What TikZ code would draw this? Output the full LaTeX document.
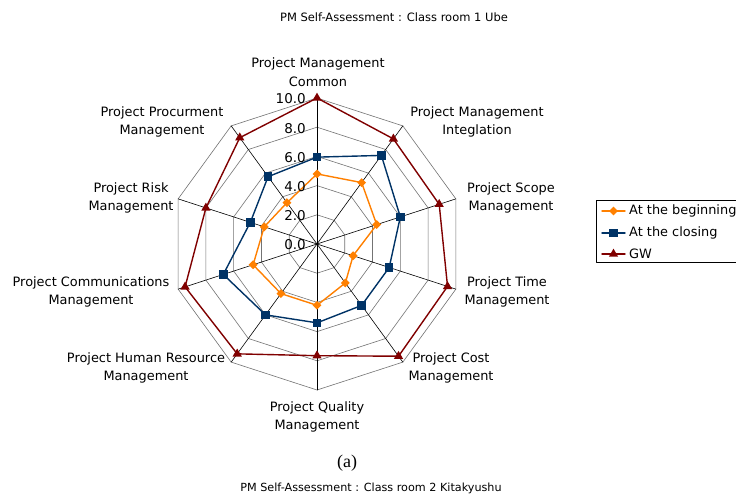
\documentclass[tikz,border=0pt]{standalone}
\usepackage{fontspec}
\setmainfont{Liberation Serif}
\newfontfamily\chartfont{DejaVu Sans}
\usetikzlibrary{shapes.geometric}
\definecolor{beginorange}{RGB}{255,128,0}
\definecolor{closenavy}{RGB}{0,51,102}
\definecolor{gwred}{RGB}{128,0,0}
\tikzset{
  gridring/.style={draw=black!55,line width=0.6pt},
  gridspoke/.style={draw=black,line width=0.6pt},
  axlabel/.style={font=\chartfont\fontsize{12.9}{18.5}\selectfont,align=center,inner sep=0pt},
  ticklabel/.style={font=\chartfont\fontsize{13.5}{14}\selectfont,anchor=east,inner sep=0pt},
  beginline/.style={draw=beginorange,line width=1.4pt},
  closeline/.style={draw=closenavy,line width=1.4pt},
  gwline/.style={draw=gwred,line width=1.4pt},
  beginmark/.style={diamond,fill=beginorange,inner sep=0pt,minimum size=9pt},
  closemark/.style={rectangle,fill=closenavy,inner sep=0pt,minimum size=8.5pt},
  gwmark/.style={isosceles triangle,isosceles triangle apex angle=60,shape border rotate=90,fill=gwred,inner sep=0pt,minimum size=8pt}
}
\begin{document}
\begin{tikzpicture}[x=1pt,y=1pt,yscale=-1,every path/.style={line join=round,line cap=round}]
  \useasboundingbox[fill=white] (0,0) rectangle (736,500);
  % title
  \node[font=\chartfont\fontsize{11.5}{14}\selectfont] (title) at (394,17) {PM Self-Assessment : Class room 1 Ube};
  % radar
  \begin{scope}[shift={(317,244)},x=14.6pt,y=14.6pt,yscale=-1]
    \foreach \r in {2,4,6,8,10}
      \draw[gridring] (90:\r) \foreach \k in {1,...,9} {-- ({90-36*\k}:\r)} -- cycle;
    \foreach \k in {0,...,9}
      \draw[gridspoke] (0,0) -- ({90-36*\k}:10);
    % data
    \foreach \v [count=\i from 0] in {4.8,5.2,4.3,2.6,3.3,4.2,4.2,4.6,3.8,3.5}
      \coordinate (b\i) at ({90-36*\i}:\v);
    \foreach \v [count=\i from 0] in {5.95,7.5,6.0,5.2,5.2,5.4,6.0,6.75,4.8,5.7}
      \coordinate (c\i) at ({90-36*\i}:\v);
    \foreach \v [count=\i from 0] in {10,8.9,8.8,9.4,9.5,7.65,9.3,9.5,8.0,9.0}
      \coordinate (g\i) at ({90-36*\i}:\v);
    \draw[beginline] (b0) \foreach \i in {1,...,9} {-- (b\i)} -- cycle;
    \draw[closeline] (c0) \foreach \i in {1,...,9} {-- (c\i)} -- cycle;
    \draw[gwline] (g0) \foreach \i in {1,...,9} {-- (g\i)} -- cycle;
    \foreach \i in {0,...,9} {
      \node[beginmark] (bm\i) at (b\i) {};
      \node[closemark] (cm\i) at (c\i) {};
      \node[gwmark] (gm\i) at (g\i) {};
    }
  \end{scope}
  % scale
  \foreach \t [count=\i from 0] in {0.0,2.0,4.0,6.0,8.0,10.0}
    \node[ticklabel] (tick\i) at (306,{245-29.2*\i}) {\t};
  % axis labels
  \node[axlabel] (lblCommon) at (318,72) {Project Management\\Common};
  \node[axlabel] (lblInteg) at (477,122) {Project Management\\Integlation};
  \node[axlabel] (lblScope) at (511,198) {Project Scope\\Management};
  \node[axlabel] (lblTime) at (507,292) {Project Time\\Management};
  \node[axlabel] (lblCost) at (451,368) {Project Cost\\Management};
  \node[axlabel] (lblQuality) at (317,417) {Project Quality\\Management};
  \node[axlabel] (lblHuman) at (146,368) {Project Human Resource\\Management};
  \node[axlabel] (lblComm) at (91,292) {Project Communications\\Management};
  \node[axlabel] (lblRisk) at (131,198) {Project Risk\\Management};
  \node[axlabel] (lblProc) at (162,122) {Project Procurment\\Management};
  % legend
  \draw[black,line width=0.8pt] (745,200) -- (596,200) -- (596,262) -- (745,262);
  \draw[beginline] (602,211) -- (625,211);
  \node[beginmark] (legB) at (613.5,211) {};
  \node[axlabel,anchor=west] (legBtxt) at (629,211) {At the beginning};
  \draw[closeline] (602,233) -- (625,233);
  \node[closemark] (legC) at (613.5,233) {};
  \node[axlabel,anchor=west] (legCtxt) at (629,233) {At the closing};
  \draw[gwline] (602,254) -- (625,254);
  \node[gwmark] (legG) at (613.5,254) {};
  \node[axlabel,anchor=west] (legGtxt) at (629,254) {GW};
  % caption
  \node[font=\fontsize{18}{20}\selectfont] (capA) at (347,463) {(a)};
  \node[font=\chartfont\fontsize{11.2}{13}\selectfont] (title2) at (371,488) {PM Self-Assessment : Class room 2 Kitakyushu};
\end{tikzpicture}
\end{document}
